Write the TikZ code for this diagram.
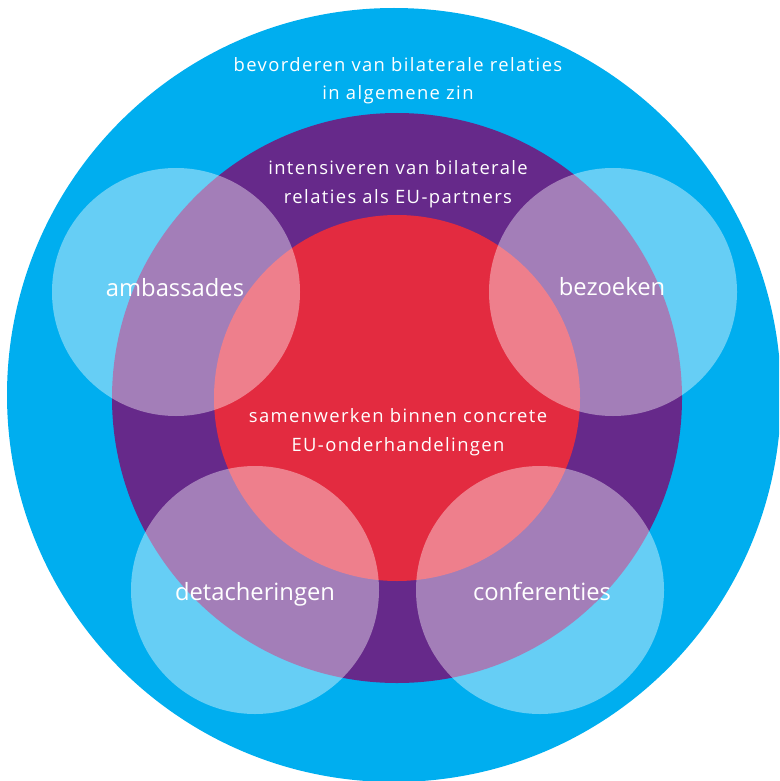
\documentclass[tikz,border=0pt]{standalone}
\usepackage{fontspec}
\setmainfont{Open Sans}
\newfontfamily\trackedfont[LetterSpace=7.5]{Open Sans}
\usepackage{tikz}
\usetikzlibrary{positioning}
\definecolor{rijksblue}{HTML}{00AEEF}
\definecolor{rijkspurple}{HTML}{66298A}
\definecolor{rijksred}{HTML}{E32B40}
\tikzset{%
	ring/.style   = {draw=none},
	spot/.style   = {fill=white, fill opacity=0.4},
	label/.style  = {text=white, inner sep=0pt, align=center, anchor=base, font=\fontsize{16.9}{20}\selectfont},
	aim/.style    = {label, font=\trackedfont\fontsize{13.1}{20.6}\selectfont},
}

\begin{document}
\begin{tikzpicture}[x=0.025cm,y=-0.025cm]
		\useasboundingbox (0,0) rectangle (779,781);
		\clip (0,0) rectangle (779,781);
		
		\fill[ring, rijksblue] (394,395) circle (387);
		\fill[ring, rijkspurple] (397,398) circle (285);
		\fill[ring, rijksred] (397,398) circle (183);
		
		\foreach \x/\y in {176/292, 613/292, 255/590, 540/590}
			\fill[spot] (\x,\y) circle (124);
		
		% base anchor sits on the last line
		\node[aim] (algemeen) at (398,100) {bevorderen van bilaterale relaties\\in algemene zin};
		\node[aim] (partners) at (398,203) {intensiveren van bilaterale\\relaties als EU-partners};
		\node[aim] (concreet) at (398,451) {samenwerken binnen concrete\\EU-onderhandelingen};
		
		\node[label] (ambassades) at (175,296) {ambassades};
		\node[label] (bezoeken) at (612,295) {bezoeken};
		\node[label] (detacheringen) at (255,600) {detacheringen};
		\node[label] (conferenties) at (542,600) {conferenties};
		\end{tikzpicture}
\end{document}
